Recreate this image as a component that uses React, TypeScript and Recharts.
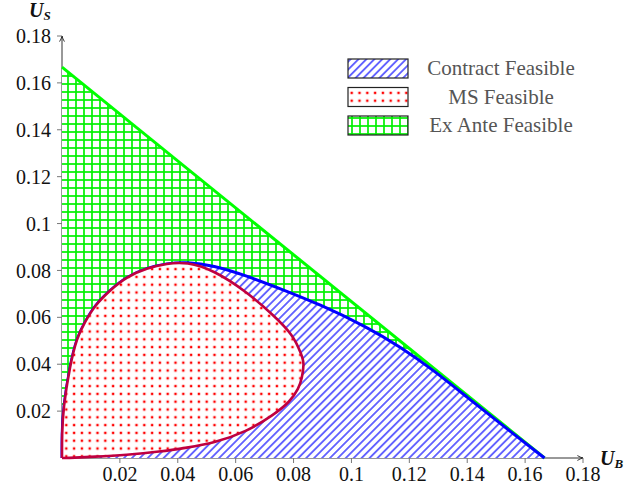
import React from 'react';
import { ScatterChart, Scatter, XAxis, YAxis, Legend } from 'recharts';

const xTicks = [0.02, 0.04, 0.06, 0.08, 0.1, 0.12, 0.14, 0.16, 0.18];
const yTicks = [0.02, 0.04, 0.06, 0.08, 0.1, 0.12, 0.14, 0.16, 0.18];

const exAnteRegion = [
  { x: 0, y: 0 },
  { x: 0, y: 0.1667 },
  { x: 0.1667, y: 0 },
];
const exAnteFrontier = [
  { x: 0, y: 0.1667 },
  { x: 0.1667, y: 0 },
];

const contractFrontier = [
  { x: 0, y: 0 },
  { x: 0, y: 0.01 },
  { x: 0.0004, y: 0.0213 },
  { x: 0.0028, y: 0.0397 },
  { x: 0.0051, y: 0.0512 },
  { x: 0.0079, y: 0.058 },
  { x: 0.0114, y: 0.0652 },
  { x: 0.0166, y: 0.0716 },
  { x: 0.0223, y: 0.0773 },
  { x: 0.0293, y: 0.081 },
  { x: 0.0362, y: 0.083 },
  { x: 0.0431, y: 0.0836 },
  { x: 0.0522, y: 0.0822 },
  { x: 0.0638, y: 0.0777 },
  { x: 0.0753, y: 0.0723 },
  { x: 0.0891, y: 0.0655 },
  { x: 0.1052, y: 0.056 },
  { x: 0.1168, y: 0.0475 },
  { x: 0.1283, y: 0.0375 },
  { x: 0.1398, y: 0.0261 },
  { x: 0.1513, y: 0.0148 },
  { x: 0.1667, y: 0 },
];

const msBoundary = [
  { x: 0, y: 0 },
  { x: 0, y: 0.01 },
  { x: 0.0004, y: 0.0213 },
  { x: 0.0028, y: 0.0397 },
  { x: 0.0051, y: 0.0512 },
  { x: 0.0079, y: 0.058 },
  { x: 0.0114, y: 0.0652 },
  { x: 0.0166, y: 0.0716 },
  { x: 0.0223, y: 0.0773 },
  { x: 0.0293, y: 0.081 },
  { x: 0.0362, y: 0.083 },
  { x: 0.0431, y: 0.0836 },
  { x: 0.0523, y: 0.0802 },
  { x: 0.0638, y: 0.0709 },
  { x: 0.073, y: 0.061 },
  { x: 0.0799, y: 0.0525 },
  { x: 0.0828, y: 0.0439 },
  { x: 0.0837, y: 0.0405 },
  { x: 0.0829, y: 0.034 },
  { x: 0.0818, y: 0.0297 },
  { x: 0.0788, y: 0.024 },
  { x: 0.073, y: 0.0183 },
  { x: 0.0638, y: 0.0112 },
  { x: 0.0523, y: 0.0063 },
  { x: 0.0431, y: 0.0044 },
  { x: 0.0339, y: 0.0027 },
  { x: 0.0223, y: 0.0013 },
  { x: 0.0108, y: 0.0005 },
  { x: 0.004, y: 0.0001 },
  { x: 0, y: 0 },
];

const legendLabels = ['Contract Feasible', 'MS Feasible', 'Ex Ante Feasible'];
const legendPatterns = ['hatchL', 'dotsL', 'gridL'];

const SERIF = '"Liberation Serif", "DejaVu Serif", serif';
const noShape = () => <g />;

const PatternDefs = ({ suffix }: { suffix: string }) => (
  <defs>
    <pattern id={'hatch' + suffix} patternUnits="userSpaceOnUse" width="5.6" height="5.6" patternTransform="rotate(45)">
      <rect x="0" y="0" width="5.6" height="5.6" fill="#ffffff" />
      <line x1="2.8" y1="0" x2="2.8" y2="5.6" stroke="#0000ff" strokeWidth="1.15" />
    </pattern>
    <pattern id={'dots' + suffix} patternUnits="userSpaceOnUse" width="7.8" height="7.8">
      <rect x="0" y="0" width="7.8" height="7.8" fill="#ffffff" />
      <rect x="2.7" y="2.7" width="2.4" height="2.4" fill="#ff0000" />
    </pattern>
    <pattern id={'grid' + suffix} patternUnits="userSpaceOnUse" width="8" height="8">
      <rect x="0" y="0" width="8" height="8" fill="#ffffff" />
      <line x1="4" y1="0" x2="4" y2="8" stroke="#00f000" strokeWidth="1.7" />
      <line x1="0" y1="4" x2="8" y2="4" stroke="#00f000" strokeWidth="1.7" />
    </pattern>
    <marker id={'arrow' + suffix} viewBox="0 0 10 10" refX="9" refY="5" markerWidth="7" markerHeight="7" markerUnits="userSpaceOnUse" orient="auto-start-reverse">
      <path d="M1,1.5 Q5,4 9,5 Q5,6 1,8.5" fill="none" stroke="#222" strokeWidth="1.3" />
    </marker>
  </defs>
);

const renderLegend = () => (
  <svg width={250} height={92}>
    <PatternDefs suffix="L" />
    {legendLabels.map((label, i) => (
      <g key={label}>
        <rect x={8} y={9 + i * 28.5} width={60} height={19} fill={`url(#${legendPatterns[i]})`} stroke="#222" strokeWidth={1.2} />
        <text x={161} y={9 + i * 28.5 + 16} textAnchor="middle" fontFamily={SERIF} fontSize={21} fill="#555">
          {label}
        </text>
      </g>
    ))}
  </svg>
);

const LabelUS = () => (
  <text x={29} y={17} fontFamily={SERIF} fontStyle="italic" fontWeight="bold" fontSize={20} fill="#111">
    U<tspan fontSize={13} dy={3}>S</tspan>
  </text>
);
const LabelUB = () => (
  <text x={600} y={465} fontFamily={SERIF} fontStyle="italic" fontWeight="bold" fontSize={20} fill="#111">
    U<tspan fontSize={13} dy={3}>B</tspan>
  </text>
);

export default function App() {
  return (
    <div style={{ position: 'relative', width: 625, height: 488 }}>
      <style>{'body{margin:0}'}</style>
      <ScatterChart width={625} height={488} margin={{ top: 36, right: 42, bottom: 0, left: 0 }}>
        <PatternDefs suffix="" />
        <XAxis
          type="number"
          dataKey="x"
          domain={[0, 0.18]}
          ticks={xTicks}
          interval={0}
          height={30}
          tickSize={5}
          tickMargin={4}
          axisLine={{ stroke: '#333', strokeWidth: 1, markerEnd: 'url(#arrow)' }}
          tickLine={{ stroke: '#777' }}
          tick={{ fontFamily: SERIF, fontSize: 20, fill: '#111' }}
          label={{ content: LabelUB }}
        />
        <YAxis
          type="number"
          dataKey="y"
          domain={[0, 0.18]}
          ticks={yTicks}
          interval={0}
          width={62}
          tickSize={5}
          tickMargin={6}
          axisLine={{ stroke: '#333', strokeWidth: 1, markerStart: 'url(#arrow)' }}
          tickLine={{ stroke: '#777' }}
          tick={{ fontFamily: SERIF, fontSize: 20, fill: '#111' }}
          label={{ content: LabelUS }}
        />
        <Scatter
          data={exAnteRegion}
          shape={noShape}
          line={{ fill: 'url(#grid)', stroke: 'none' }}
          lineJointType="linear"
          isAnimationActive={false}
        />
        <Scatter
          data={exAnteFrontier}
          shape={noShape}
          line={{ fill: 'none', stroke: '#00ff00', strokeWidth: 3 }}
          lineJointType="linear"
          isAnimationActive={false}
        />
        <Scatter
          data={contractFrontier}
          shape={noShape}
          line={{ fill: 'url(#hatch)', stroke: 'none' }}
          lineJointType="basis"
          isAnimationActive={false}
        />
        <Scatter
          data={contractFrontier}
          shape={noShape}
          line={{ fill: 'none', stroke: '#0000ff', strokeWidth: 3 }}
          lineJointType="basis"
          isAnimationActive={false}
        />
        <Scatter
          data={msBoundary}
          shape={noShape}
          line={{ fill: 'url(#dots)', stroke: '#bf0040', strokeWidth: 2.6 }}
          lineJointType="basis"
          isAnimationActive={false}
        />
        <Legend
          layout="horizontal"
          align="center"
          verticalAlign="middle"
          content={renderLegend}
          wrapperStyle={{ left: 340, top: 50, width: 250, height: 92 }}
        />
      </ScatterChart>
    </div>
  );
}
